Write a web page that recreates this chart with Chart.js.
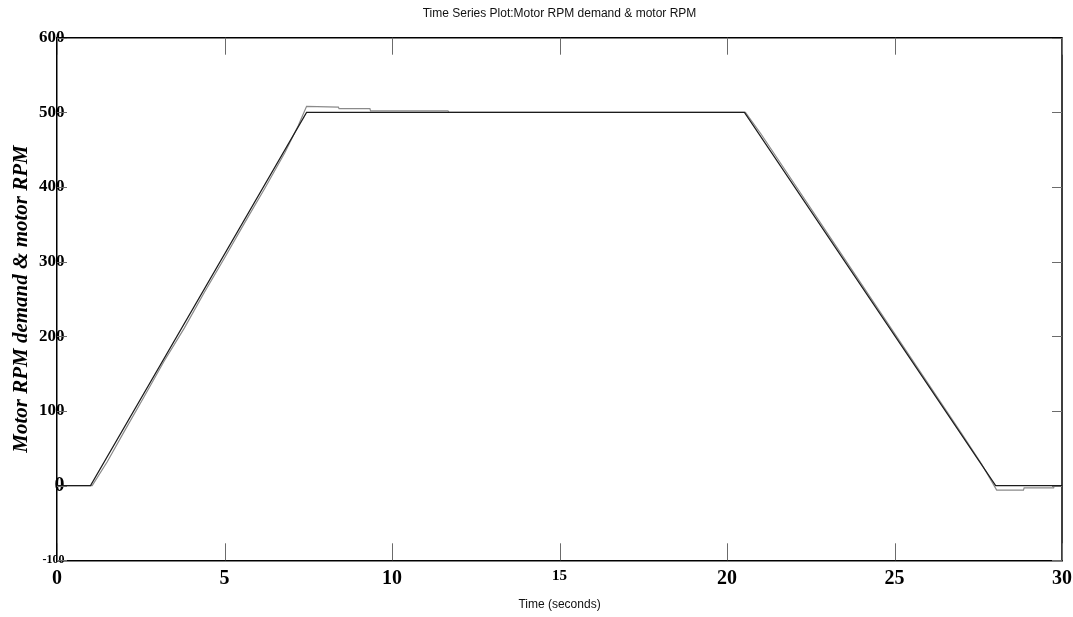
<!DOCTYPE html>
<html>
<head>
<meta charset="utf-8">
<title>Motor RPM demand & motor RPM</title>
<script src="https://cdn.jsdelivr.net/npm/chart.js@4/dist/chart.umd.min.js"></script>
<style>
  html, body { margin: 0; padding: 0; background: #ffffff; }
  canvas { display: block; }
</style>
</head>
<body>
<canvas id="rpm" width="1073" height="617"></canvas>
<script>
// Demand profile (seconds, rpm)
const demandTime = [0, 1.0, 7.45, 20.52, 28.02, 30];
const demandRpm  = [0, 0,   500,  500,   0,     0];

// Measured motor speed (seconds, rpm)
const motorTime = [0, 1.05, 1.5, 2.0, 2.6, 3.2, 3.8, 4.4, 5.0, 5.6, 6.2, 6.8, 7.2, 7.45,
                   8.4, 8.42, 9.34, 9.36, 11.67, 11.7, 20.55, 21.0, 22.0, 23.0, 24.0,
                   25.0, 26.0, 27.0, 27.6, 28.05, 28.85, 28.87, 29.75, 29.77, 30];
const motorRpm  = [0, 0, 32, 72, 119, 167, 211, 259, 305, 352, 398, 446, 482, 508,
                   507, 505, 505, 502, 502, 500, 500, 472, 405, 338, 271,
                   204, 137, 70, 29, -6, -6, -3, -3, 0, 0];

// Axis ticks
const timeTicks = [0, 5, 10, 15, 20, 25, 30];
const rpmTicks  = [-100, 0, 100, 200, 300, 400, 500, 600];

const toPoints = (xs, ys) => xs.map((x, i) => ({ x: x, y: ys[i] }));

// Box on the top and right, plus short inward tick marks on all four sides
const frameTicks = {
  id: 'frameTicks',
  afterDatasetsDraw(chart) {
    const { ctx, chartArea: a, scales } = chart;
    ctx.save();
    ctx.strokeStyle = '#000000';
    ctx.lineWidth = 1.5;
    ctx.beginPath();
    ctx.moveTo(a.left, a.top);
    ctx.lineTo(a.right, a.top);
    ctx.lineTo(a.right, a.bottom);
    ctx.stroke();

    ctx.strokeStyle = '#6b6b6b';
    ctx.lineWidth = 1;
    ctx.beginPath();
    timeTicks.forEach(v => {
      const x = Math.round(scales.x.getPixelForValue(v)) + 0.5;
      ctx.moveTo(x, a.top);
      ctx.lineTo(x, a.top + 17);
      ctx.moveTo(x, a.bottom);
      ctx.lineTo(x, a.bottom - 17);
    });
    rpmTicks.forEach(v => {
      const y = Math.round(scales.y.getPixelForValue(v)) + 0.5;
      ctx.moveTo(a.left, y);
      ctx.lineTo(a.left + 10, y);
      ctx.moveTo(a.right, y);
      ctx.lineTo(a.right - 10, y);
    });
    ctx.stroke();
    ctx.restore();
  }
};

const serif = "'Liberation Serif', 'Times New Roman', serif";
const sans = "'Liberation Sans', Arial, sans-serif";

new Chart(document.getElementById('rpm'), {
  type: 'line',
  data: {
    datasets: [
      {
        label: 'Motor RPM demand',
        data: toPoints(demandTime, demandRpm),
        borderColor: '#1c1c1c',
        borderWidth: 1.2,
        pointRadius: 0,
        tension: 0,
        fill: false
      },
      {
        label: 'Motor RPM',
        data: toPoints(motorTime, motorRpm),
        borderColor: '#8a8a8a',
        borderWidth: 1.2,
        pointRadius: 0,
        tension: 0,
        fill: false
      }
    ]
  },
  options: {
    responsive: false,
    animation: false,
    devicePixelRatio: 1,
    layout: { padding: { left: 0, right: 11, top: 0, bottom: 0 } },
    plugins: {
      legend: { display: false },
      tooltip: { enabled: false },
      title: {
        display: true,
        text: 'Time Series Plot:Motor RPM demand & motor RPM',
        fullSize: false,
        color: '#111111',
        font: { family: sans, size: 12, weight: 'normal' },
        padding: { top: 6, bottom: 17.3 }
      }
    },
    scales: {
      x: {
        type: 'linear',
        min: 0,
        max: 30,
        grid: { display: false, drawTicks: false },
        border: { display: true, color: '#000000', width: 1.5 },
        afterBuildTicks: s => { s.ticks = timeTicks.map(v => ({ value: v })); },
        afterFit: s => { s.height = 56.7; s.paddingLeft = 0; s.paddingRight = 0; },
        ticks: {
          maxRotation: 0,
          autoSkip: false,
          padding: 7,
          labelOffset: 0,
          color: '#000000',
          font: c => ({ family: serif, weight: 'bold', size: c.tick && c.tick.value === 15 ? 15 : 20 })
        },
        title: {
          display: true,
          text: 'Time (seconds)',
          color: '#111111',
          font: { family: sans, size: 12, weight: 'normal' },
          padding: { top: 0, bottom: 5 }
        }
      },
      y: {
        type: 'linear',
        min: -100,
        max: 600,
        grid: { display: false, drawTicks: false },
        border: { display: true, color: '#000000', width: 1.5 },
        afterBuildTicks: s => { s.ticks = rpmTicks.map(v => ({ value: v })); },
        afterFit: s => { s.width = 57; s.paddingTop = 0; s.paddingBottom = 0; },
        ticks: {
          autoSkip: false,
          mirror: true,
          crossAlign: 'far',
          padding: -18,
          color: '#000000',
          font: c => {
            const v = c.tick ? c.tick.value : 100;
            const size = v === 0 ? 20 : (v === -100 ? 12 : 17);
            return { family: serif, weight: 'bold', size: size };
          }
        },
        title: {
          display: true,
          text: 'Motor RPM demand & motor RPM',
          color: '#000000',
          font: { family: serif, size: 21, weight: 'bold', style: 'italic' },
          padding: { top: 9, bottom: 0 }
        }
      }
    }
  },
  plugins: [frameTicks]
});
</script>
</body>
</html>
